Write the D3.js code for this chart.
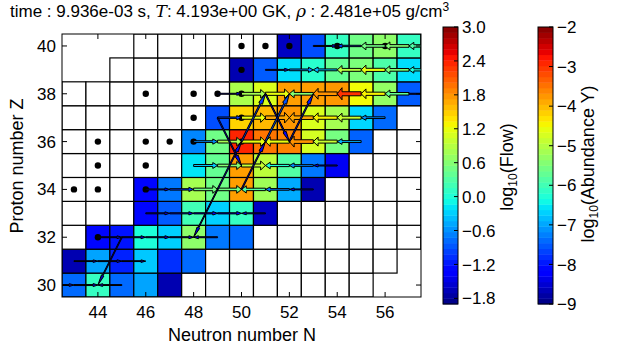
<!DOCTYPE html>
<html>
<head>
<meta charset="utf-8">
<script src="https://cdn.jsdelivr.net/npm/d3@7"></script>
<style>
  body { margin: 0; background: #fff; }
  text { font-family: "Liberation Sans", Arial, sans-serif; }
</style>
</head>
<body>
<script>
// ---- data ----
const xTicks = [44, 46, 48, 50, 52, 54, 56];
const yTicks = [30, 32, 34, 36, 38, 40];
const flowTicks = [-1.8, -1.2, -0.6, 0.0, 0.6, 1.2, 1.8, 2.4, 3.0];
const abuTicks = [-9, -8, -7, -6, -5, -4, -3, -2];

// network extent per proton number
const netZ = [30, 31, 32, 33, 34, 35, 36, 37, 38, 39, 40];
const netNmin = [42, 42, 42, 42, 42, 42, 42, 42, 42, 45, 46];
const netNmax = [55, 56, 58, 58, 58, 58, 58, 58, 58, 58, 58];

// [N, Z, log10 Y]
const abundance = [
  [43, 30, -7.4], [44, 30, -6.1], [45, 30, -7.4], [46, 30, -7.0], [47, 30, -8.7],
  [43, 31, -8.7], [44, 31, -7.0], [45, 31, -7.9], [46, 31, -6.75], [47, 31, -7.8], [48, 31, -7.4],
  [44, 32, -8.1], [45, 32, -8.0], [46, 32, -6.3], [47, 32, -6.7], [48, 32, -5.35], [49, 32, -7.3], [50, 32, -7.4],
  [46, 33, -8.1], [47, 33, -7.5], [48, 33, -6.0], [49, 33, -6.7], [50, 33, -6.1], [51, 33, -8.6],
  [46, 34, -8.1], [47, 34, -7.3], [48, 34, -5.15], [49, 34, -5.6], [50, 34, -3.8], [51, 34, -5.2], [52, 34, -6.95], [53, 34, -8.7],
  [48, 35, -6.55], [49, 35, -5.7], [50, 35, -3.8], [51, 35, -4.95], [52, 35, -5.85], [53, 35, -7.3], [54, 35, -8.3],
  [48, 36, -7.2], [49, 36, -5.6], [50, 36, -2.9], [51, 36, -3.5], [52, 36, -3.6], [53, 36, -4.75], [54, 36, -5.55], [55, 36, -7.45],
  [49, 37, -7.6], [50, 37, -4.2], [51, 37, -4.0], [52, 37, -3.75], [53, 37, -4.7], [54, 37, -5.15], [55, 37, -6.65], [56, 37, -7.4],
  [50, 38, -5.1], [51, 38, -4.7], [52, 38, -3.8], [53, 38, -3.8], [54, 38, -3.75], [55, 38, -4.5], [56, 38, -5.3], [57, 38, -7.5],
  [50, 39, -8.7], [51, 39, -7.5], [52, 39, -6.6], [53, 39, -6.2], [54, 39, -5.7], [55, 39, -5.5], [56, 39, -5.9], [57, 39, -6.6],
  [52, 40, -8.6], [53, 40, -7.6], [54, 40, -6.1], [55, 40, -5.6], [56, 40, -5.35], [57, 40, -6.1]
];

// stable isotopes [N, Z]
const stable = [
  [44, 32], [43, 34], [44, 34], [46, 34], [44, 35], [46, 35],
  [44, 36], [46, 36], [47, 36], [48, 36], [50, 36], [48, 37], [50, 37],
  [46, 38], [48, 38], [49, 38], [50, 38], [50, 39],
  [50, 40], [51, 40], [52, 40], [54, 40], [56, 40]
];

// [N from, Z from, N to, Z to, log10 flow]
const flows = [
  [42, 30, 43, 30, -1.6], [43, 30, 44, 30, -1.5], [45, 30, 44, 30, -1.6],
  [43, 31, 44, 31, -1.7], [44, 31, 45, 31, -1.6], [45, 31, 46, 31, -1.7],
  [44, 32, 45, 32, -1.6], [45, 32, 46, 32, -1.5], [46, 32, 47, 32, -1.5], [47, 32, 48, 32, -1.5], [49, 32, 48, 32, -1.5],
  [46, 33, 47, 33, -1.5], [47, 33, 48, 33, -1.4], [48, 33, 49, 33, -1.3], [49, 33, 50, 33, -1.3], [51, 33, 50, 33, -1.5],
  [46, 34, 47, 34, -1.5], [47, 34, 48, 34, -1.0], [48, 34, 49, 34, 0.5], [49, 34, 50, 34, 0.5], [51, 34, 50, 34, 0.3], [52, 34, 51, 34, -0.7], [53, 34, 52, 34, -1.5],
  [48, 35, 49, 35, -0.3], [49, 35, 50, 35, 0.6], [50, 35, 51, 35, 1.0], [52, 35, 51, 35, 0.0], [53, 35, 52, 35, -0.6], [54, 35, 53, 35, -1.5],
  [48, 36, 49, 36, -0.6], [49, 36, 50, 36, 0.8], [50, 36, 51, 36, 1.2], [52, 36, 51, 36, 1.2], [53, 36, 52, 36, 1.8], [54, 36, 53, 36, 1.0], [55, 36, 54, 36, -0.4],
  [49, 37, 50, 37, -1.0], [50, 37, 51, 37, 1.2], [51, 37, 52, 37, 1.7], [53, 37, 52, 37, 1.7], [54, 37, 53, 37, 1.3], [55, 37, 54, 37, 1.0], [56, 37, 55, 37, -0.6],
  [49, 38, 50, 38, -1.5], [50, 38, 51, 38, 0.8], [51, 38, 52, 38, 1.2], [53, 38, 52, 38, 0.6], [54, 38, 53, 38, 1.8], [55, 38, 54, 38, 2.3], [56, 38, 55, 38, 1.3], [57, 38, 56, 38, 0.4], [57, 38, 58, 38, -1.5],
  [51, 39, 52, 39, -1.5], [52, 39, 53, 39, -0.6], [54, 39, 53, 39, -0.4], [55, 39, 54, 39, 0.9], [56, 39, 55, 39, 1.2], [57, 39, 56, 39, 0.6], [58, 39, 57, 39, 0.0],
  [53, 40, 54, 40, -1.5], [55, 40, 54, 40, -1.0], [56, 40, 55, 40, 0.5], [57, 40, 56, 40, 0.6], [58, 40, 57, 40, 0.3],
  // diagonal links
  [45, 32, 44, 30, -1.6], [49, 34, 48, 32, -1.5],
  [49, 34, 50, 36, -1.3], [50, 34, 51, 36, -1.3],
  [50, 36, 51, 38, -1.0], [51, 36, 52, 38, -0.9], [52, 36, 53, 38, -1.2],
  [49, 37, 50, 35, -1.3], [51, 38, 52, 36, -1.3]
];

// ---- matplotlib jet ----
function jet(t) {
  t = Math.max(0, Math.min(1, t));
  const seg = (pts) => {
    for (let i = 1; i < pts.length; i++) {
      if (t <= pts[i][0]) {
        const [a, va] = pts[i - 1], [b, vb] = pts[i];
        return va + (vb - va) * (t - a) / (b - a);
      }
    }
    return pts[pts.length - 1][1];
  };
  const r = seg([[0, 0], [0.35, 0], [0.66, 1], [0.89, 1], [1, 0.5]]);
  const g = seg([[0, 0], [0.125, 0], [0.375, 1], [0.64, 1], [0.91, 0], [1, 0]]);
  const b = seg([[0, 0.5], [0.11, 1], [0.34, 1], [0.65, 0], [1, 0]]);
  return d3.rgb(r * 255, g * 255, b * 255).toString();
}

const W = 623, H = 347;
const svg = d3.select("body").append("svg").attr("width", W).attr("height", H);

const x = d3.scaleLinear().domain([42.5, 57.5]).range([62, 421]);
const y = d3.scaleLinear().domain([29.5, 40.5]).range([297, 34]);
const abuNorm = d3.scaleLinear().domain([-9, -2]).range([0, 1]).clamp(true);
const flowNorm = d3.scaleLinear().domain([-1.9, 3.0]).range([0, 1]).clamp(true);
const widthPx = d3.scaleLinear().domain([-1.9, 3.0]).range([3.4, 23]);

svg.append("clipPath").attr("id", "plotclip")
  .append("rect").attr("x", 62).attr("y", 34).attr("width", 359).attr("height", 263);

const plot = svg.append("g").attr("clip-path", "url(#plotclip)");

// network boxes
const abuMap = new Map(abundance.map(d => [d[0] + "_" + d[1], d[2]]));
const cells = [];
netZ.forEach((z, i) => {
  for (let n = netNmin[i]; n <= netNmax[i]; n++) cells.push([n, z]);
});
const cw = x(1) - x(0), ch = y(0) - y(1);
plot.selectAll("rect.cell").data(cells).join("rect")
  .attr("class", "cell")
  .attr("x", d => x(d[0] - 0.5))
  .attr("y", d => y(d[1] + 0.5))
  .attr("width", cw).attr("height", ch)
  .attr("fill", d => {
    const v = abuMap.get(d[0] + "_" + d[1]);
    return v === undefined ? "#fff" : jet(abuNorm(v));
  })
  .attr("stroke", "#000").attr("stroke-width", 1.2);

// stable isotopes
plot.selectAll("circle.stable").data(stable).join("circle")
  .attr("cx", d => x(d[0])).attr("cy", d => y(d[1])).attr("r", 3.2)
  .attr("fill", "#000");

// flux arrows (matplotlib Arrow patch shape)
function arrowPath(d) {
  const x1 = x(d[0]), y1 = y(d[1]), x2 = x(d[2]), y2 = y(d[3]);
  const dx = x2 - x1, dy = y2 - y1, L = Math.hypot(dx, dy);
  const ux = dx / L, uy = dy / L, px = -uy, py = ux;
  const w = widthPx(d[4]);
  const shape = [[0, 0.1], [0, -0.1], [0.8, -0.1], [0.8, -0.3], [1, 0], [0.8, 0.3], [0.8, 0.1]];
  return "M" + shape.map(([a, b]) =>
    [x1 + ux * a * L + px * b * w, y1 + uy * a * L + py * b * w].map(v => v.toFixed(2)).join(",")
  ).join("L") + "Z";
}
plot.selectAll("path.flux").data(flows).join("path")
  .attr("class", "flux")
  .attr("d", arrowPath)
  .attr("fill", d => jet(flowNorm(d[4])))
  .attr("stroke", "#000").attr("stroke-width", 1)
  .attr("stroke-linejoin", "miter");

// frame + ticks
const frame = svg.append("g");
frame.append("rect").attr("x", 62).attr("y", 34).attr("width", 359).attr("height", 263)
  .attr("fill", "none").attr("stroke", "#000").attr("stroke-width", 1);
const tl = 5;
xTicks.forEach(t => {
  frame.append("line").attr("x1", x(t)).attr("x2", x(t)).attr("y1", 297).attr("y2", 297 - tl).attr("stroke", "#000");
  frame.append("line").attr("x1", x(t)).attr("x2", x(t)).attr("y1", 34).attr("y2", 34 + tl).attr("stroke", "#000");
  frame.append("text").attr("x", x(t)).attr("y", 318).attr("text-anchor", "middle")
    .style("font-size", "17px").text(t);
});
yTicks.forEach(t => {
  frame.append("line").attr("x1", 62).attr("x2", 62 + tl).attr("y1", y(t)).attr("y2", y(t)).attr("stroke", "#000");
  frame.append("line").attr("x1", 421).attr("x2", 421 - tl).attr("y1", y(t)).attr("y2", y(t)).attr("stroke", "#000");
  frame.append("text").attr("x", 56).attr("y", y(t)).attr("dy", "0.35em").attr("text-anchor", "end")
    .style("font-size", "17px").text(t);
});

svg.append("text").attr("x", 242).attr("y", 341).attr("text-anchor", "middle")
  .style("font-size", "18px").text("Neutron number N");
svg.append("text").attr("transform", "translate(23,166) rotate(-90)").attr("text-anchor", "middle")
  .style("font-size", "18px").text("Proton number Z");

// title
const title = svg.append("text").attr("x", 10).attr("y", 17).style("font-size", "17px");
title.append("tspan").text("time : 9.936e-03 s, ");
title.append("tspan").style("font-family", "'DejaVu Serif', serif").style("font-style", "italic").text("T");
title.append("tspan").text(": 4.193e+00 GK, ");
title.append("tspan").style("font-family", "'DejaVu Serif', serif").style("font-style", "italic").text("ρ");
title.append("tspan").text(" : 2.481e+05 g/cm");
title.append("tspan").attr("dy", -6).style("font-size", "12px").text("3");

// colorbars
function colorbar(x0, domain, ticks, fmt, label) {
  const top = 27, bot = 304, bw = 15;
  const cy = d3.scaleLinear().domain(domain).range([bot, top]);
  const g = svg.append("g");
  const nb = 50;
  const bands = d3.range(nb);
  g.selectAll("rect").data(bands).join("rect")
    .attr("x", x0).attr("width", bw)
    .attr("y", i => top + (bot - top) * (nb - 1 - i) / nb)
    .attr("height", (bot - top) / nb + 0.4)
    .attr("fill", i => jet((i + 0.5) / nb));
  g.append("rect").attr("x", x0).attr("y", top).attr("width", bw).attr("height", bot - top)
    .attr("fill", "none").attr("stroke", "#000").attr("stroke-width", 1);
  ticks.forEach(t => {
    g.append("line").attr("x1", x0 + bw).attr("x2", x0 + bw - 4).attr("y1", cy(t)).attr("y2", cy(t))
      .attr("stroke", "#000");
    g.append("text").attr("x", x0 + bw + 4).attr("y", cy(t)).attr("dy", "0.36em")
      .style("font-size", "17px").text(fmt(t));
  });
  const lab = g.append("text").attr("transform", `translate(${label.x},${label.y}) rotate(-90)`)
    .attr("text-anchor", "middle").style("font-size", "18px");
  lab.append("tspan").text("log");
  lab.append("tspan").attr("dy", 4).style("font-size", "12px").text("10");
  lab.append("tspan").attr("dy", -4).text(label.text);
}
const minus = s => s.replace("-", "\u2212");
colorbar(443, [-1.9, 3.0], flowTicks, t => minus(t.toFixed(1)), { x: 513, y: 167, text: "(Flow)" });
colorbar(538, [-9, -2], abuTicks, t => minus(String(t)), { x: 594, y: 164, text: "(Abundance Y)" });
</script>
</body>
</html>
